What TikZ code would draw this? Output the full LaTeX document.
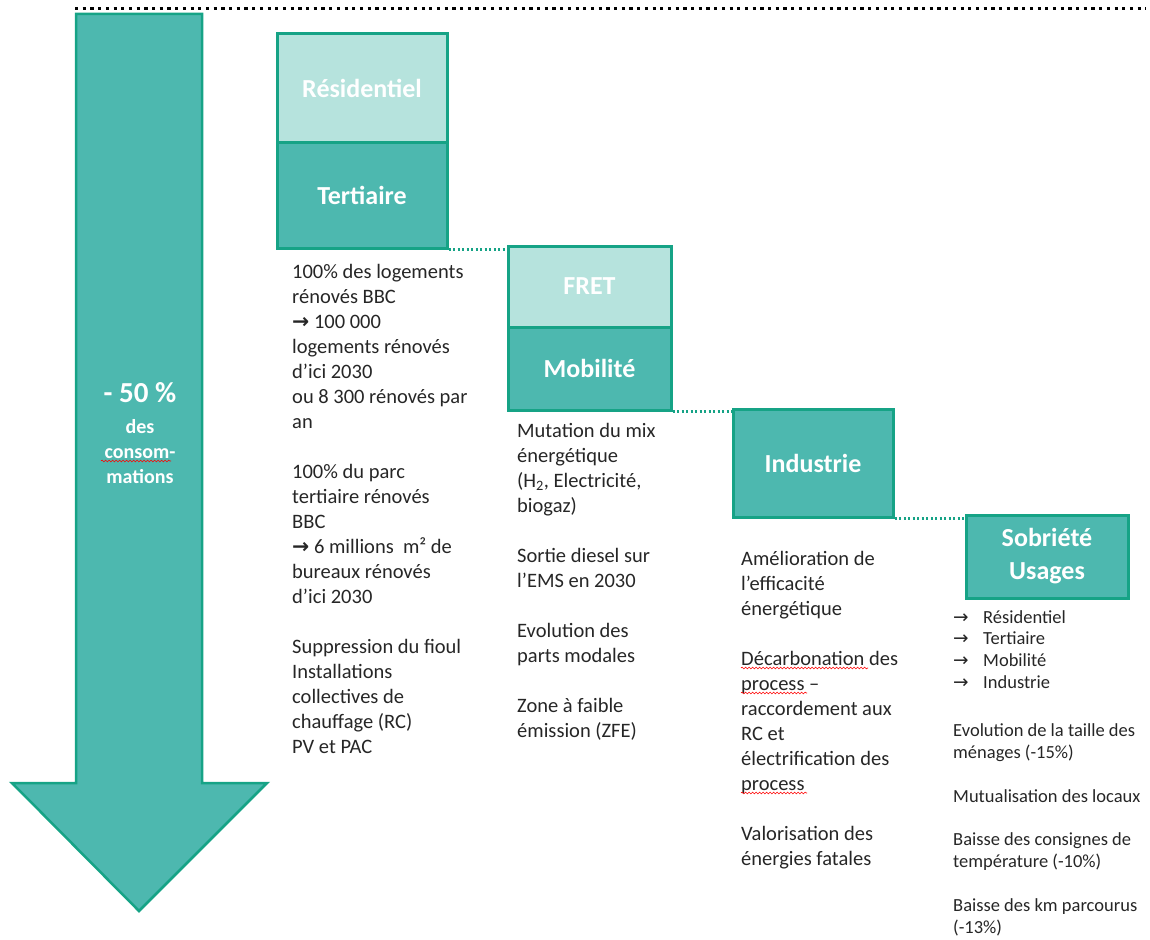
\documentclass[tikz,border=0pt]{standalone}
\usepackage{fontspec}
\setmainfont{Carlito}
\newfontfamily\arrowfont{DejaVu Sans}
\usetikzlibrary{decorations.pathmorphing}
\definecolor{tealfill}{HTML}{4DB8AF}
\definecolor{tealline}{HTML}{16A386}
\definecolor{teallight}{HTML}{B6E3DD}
\definecolor{txt}{HTML}{262626}
\newcommand{\myarrow}{{\arrowfont\bfseries →}}
\newcommand{\myarrowl}{{\arrowfont →}}
\tikzset{
  box/.style={draw=tealline, line width=3pt, fill=tealfill, text=white, inner sep=0pt,
    align=center, font=\bfseries\fontsize{26}{33}\selectfont},
  lbox/.style={box, fill=teallight},
  body/.style={anchor=base west, inner sep=0pt, align=left, text=txt,
    font=\fontsize{20.5}{25}\selectfont},
  small/.style={body, font=\fontsize{18.5}{21.8}\selectfont},
  conn/.style={draw=tealline, line width=2.5pt, dash pattern=on 2pt off 2.5pt},
  spell/.style={draw=red, line width=0.6pt, decorate,
    decoration={snake, amplitude=0.9pt, segment length=3.5pt}}
}
\begin{document}
\begin{tikzpicture}[x=1pt,y=-1pt]
\useasboundingbox (0,0) rectangle (1150,939);
% top dotted line
\draw[black, line width=3pt, dash pattern=on 3.2pt off 4.5pt] (75,9) -- (1146,9);
% big arrow
\draw[tealline, fill=tealfill, line width=2.5pt, line join=miter]
  (76,14) -- (202,14) -- (202,783) -- (267,783) -- (139,911) -- (12,783) -- (76,783) -- cycle;
\node[text=white, font=\bfseries\fontsize{29}{34}\selectfont] (pct) at (140,393) {- 50 \%};
\node[text=white, align=center, font=\bfseries\fontsize{20}{25}\selectfont] (lbl) at (140,452) {des\\consom-\\mations};
% boxes
\node[lbox, minimum width=170, minimum height=108] (res) at (362,88) {Résidentiel};
\node[box, minimum width=170, minimum height=106] (ter) at (362,195) {Tertiaire};
\node[lbox, minimum width=163, minimum height=81] (fret) at (589.5,286.5) {FRET};
\node[box, minimum width=163, minimum height=83] (mob) at (589.5,368.5) {Mobilité};
\node[box, minimum width=160, minimum height=108] (ind) at (813,463) {Industrie};
\node[box, minimum width=162, minimum height=83] (sob) at (1047,556.5) {Sobriété\\Usages};
% connectors
\draw[conn] (ter.south east) -- (ter.south east -| fret.west);
\draw[conn] (mob.south east) -- (mob.south east -| ind.west);
\draw[conn] (ind.south east) -- (ind.south east -| sob.west);
% texts (anchor = baseline of the last line)
\node[body] (t1) at (292,753) {100\% des logements\\
rénovés BBC\\
\myarrow\ 100 000\\
logements rénovés\\
d’ici 2030\\
ou 8 300 rénovés par\\
an\\[25pt]
100\% du parc\\
tertiaire rénovés\\
BBC\\
\myarrow\ 6 millions\ \ m² de\\
bureaux rénovés\\
d’ici 2030\\[25pt]
Suppression du fioul\\
Installations\\
collectives de\\
chauffage (RC)\\
PV et PAC};
\node[body] (t2) at (517,737) {Mutation du mix\\
énergétique\\
(H\textsubscript{2}, Electricité,\\
biogaz)\\[25pt]
Sortie diesel sur\\
l’EMS en 2030\\[25pt]
Evolution des\\
parts modales\\[25pt]
Zone à faible\\
émission (ZFE)};
\node[body] (t3) at (741,865) {Amélioration de\\
l’efficacité\\
énergétique\\[25pt]
Décarbonation des\\
process –\\
raccordement aux\\
RC et\\
électrification des\\
process\\[25pt]
Valorisation des\\
énergies fatales};
\node[small] (t4) at (953,688.5) {\makebox[30pt][l]{\myarrowl}Résidentiel\\
\makebox[30pt][l]{\myarrowl}Tertiaire\\
\makebox[30pt][l]{\myarrowl}Mobilité\\
\makebox[30pt][l]{\myarrowl}Industrie};
\node[small] (t5) at (953,933) {Evolution de la taille des\\
ménages (-15\%)\\[21.8pt]
Mutualisation des locaux\\[21.8pt]
Baisse des consignes de\\
température (-10\%)\\[21.8pt]
Baisse des km parcourus\\
(-13\%)};
% spell-check marks
\draw[spell] (101,461) -- (171,461);
\draw[spell] (741,668) -- (868,668);
\draw[spell] (741,693) -- (807,693);
\draw[spell] (741,793) -- (807,793);
\end{tikzpicture}
\end{document}
